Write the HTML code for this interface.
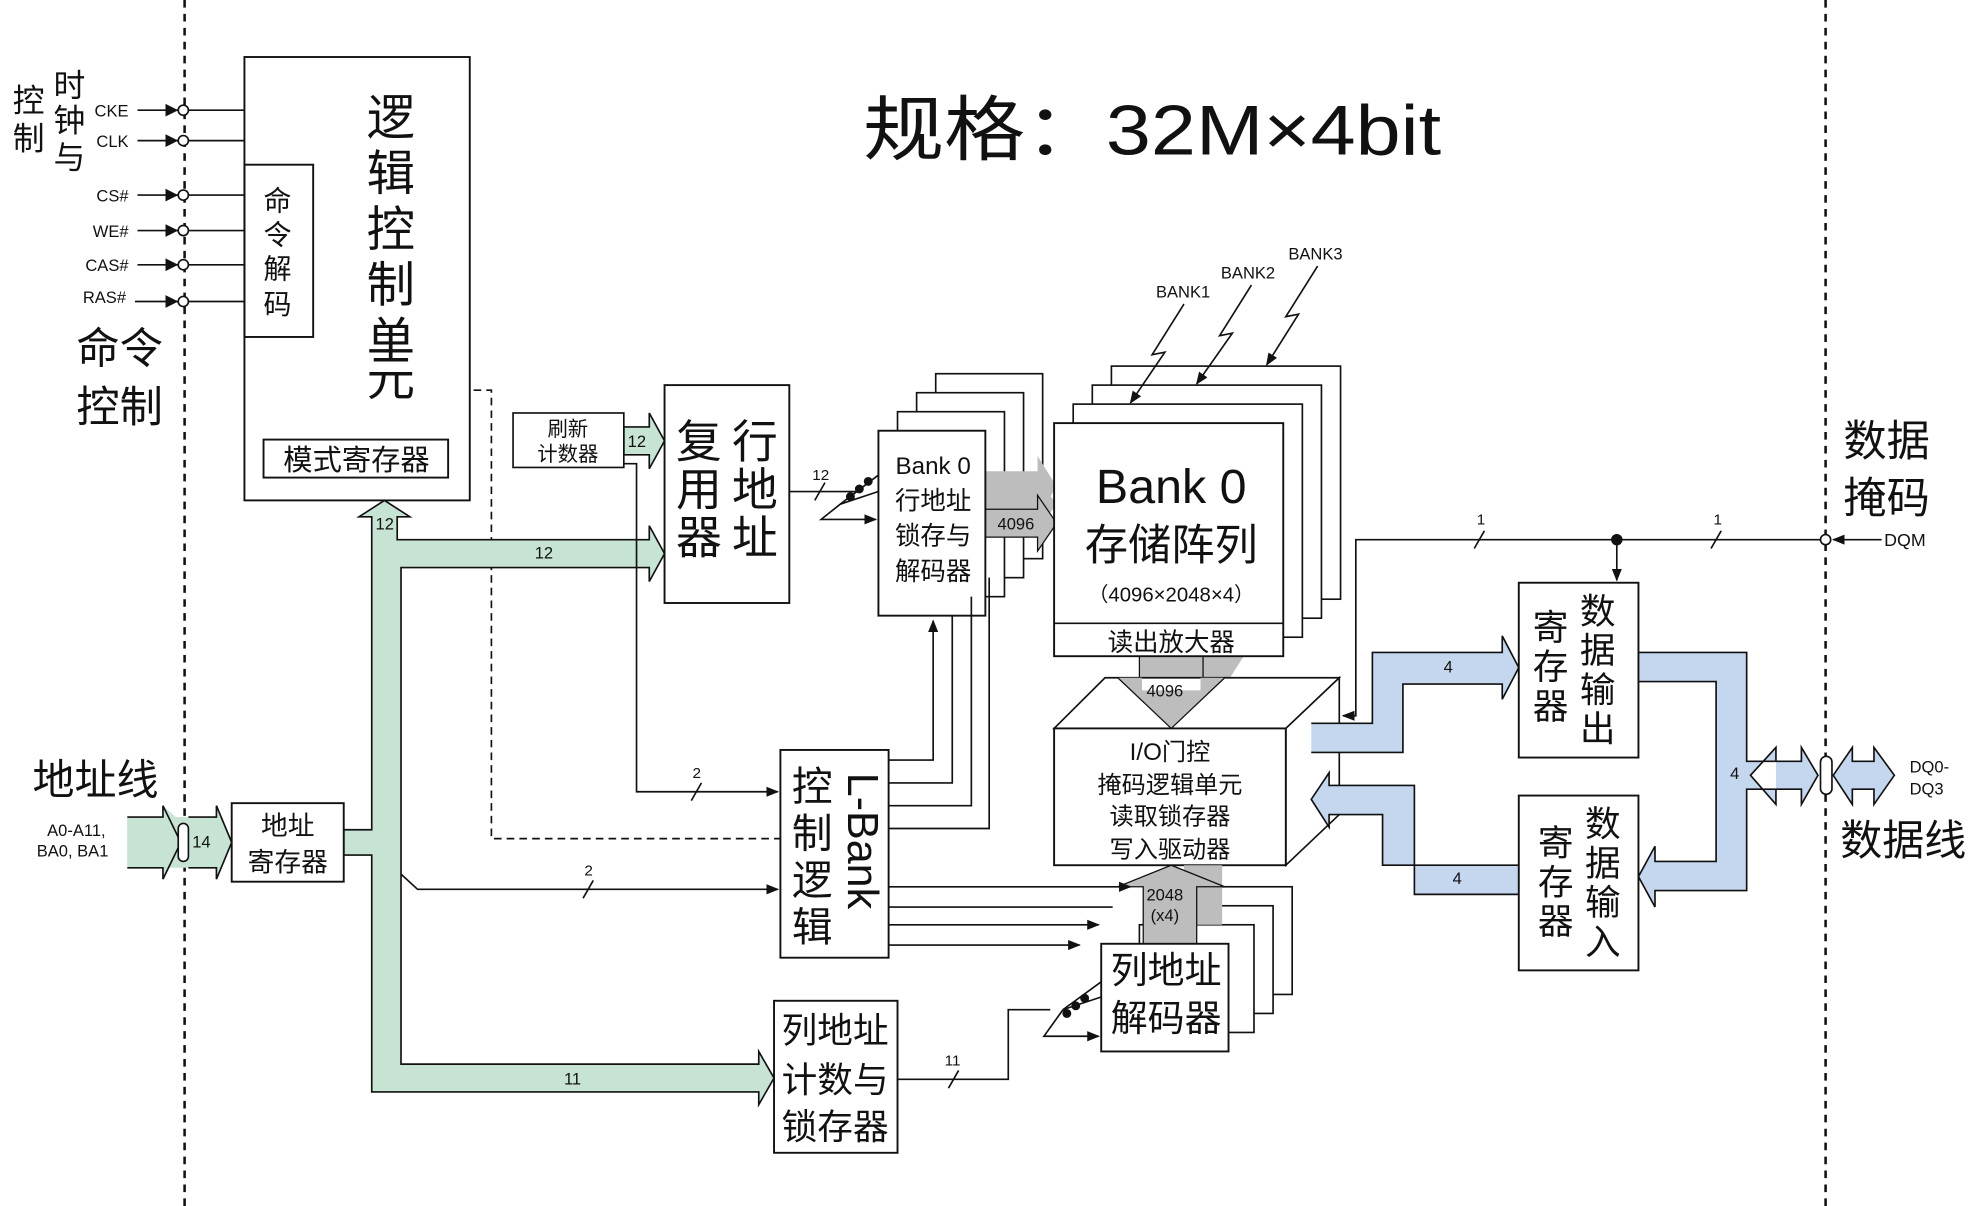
<!DOCTYPE html>
<html><head><meta charset="utf-8"><style>
html,body{margin:0;padding:0;background:#fff;}
svg{display:block;}
text{font-family:"Liberation Sans","Noto Sans CJK SC",sans-serif;fill:#111;}
</style></head><body>
<svg width="1986" height="1206" viewBox="0 0 1560 952" preserveAspectRatio="none" xmlns="http://www.w3.org/2000/svg">
<defs>
<marker id="ah" markerWidth="10" markerHeight="8" refX="9" refY="4" orient="auto" markerUnits="userSpaceOnUse"><path d="M0,0 L10,4 L0,8 z" fill="#111"/></marker>
</defs>
<rect width="1560" height="952" fill="#fff"/>
<g stroke="#111" stroke-width="2" stroke-dasharray="6,5" fill="none">
<line x1="145" y1="0" x2="145" y2="952"/><line x1="1434" y1="0" x2="1434" y2="952"/>
</g>
<!-- title -->
<text x="678" y="122" font-size="56" textLength="454" lengthAdjust="spacingAndGlyphs">规格：32M×4bit</text>
<!-- left labels -->
<g font-size="25">
<text x="10" y="88">控</text><text x="10" y="118">制</text>
<text x="42" y="76">时</text><text x="42" y="104">钟</text><text x="42" y="133">与</text>
</g>
<text x="60" y="287" font-size="34">命令</text><text x="60" y="333" font-size="34">控制</text>
<g font-size="13" text-anchor="end">
<text x="101" y="92">CKE</text><text x="101" y="116">CLK</text><text x="101" y="159">CS#</text>
<text x="101" y="187">WE#</text><text x="101" y="214">CAS#</text><text x="99" y="239">RAS#</text>
</g>
<g stroke="#111" stroke-width="1.3" fill="#fff">
<line x1="108" y1="87" x2="192" y2="87"/><line x1="108" y1="111" x2="192" y2="111"/>
<line x1="108" y1="154" x2="192" y2="154"/><line x1="108" y1="182" x2="192" y2="182"/>
<line x1="108" y1="209" x2="192" y2="209"/><line x1="106" y1="238" x2="192" y2="238"/>
</g>
<g fill="#111"><path d="M130,82 L140,87 L130,92z"/><path d="M130,106 L140,111 L130,116z"/><path d="M130,149 L140,154 L130,159z"/><path d="M130,177 L140,182 L130,187z"/><path d="M130,204 L140,209 L130,214z"/><path d="M130,233 L140,238 L130,243z"/></g>
<g stroke="#111" stroke-width="1.3" fill="#fff"><circle cx="144" cy="87" r="4"/><circle cx="144" cy="111" r="4"/><circle cx="144" cy="154" r="4"/><circle cx="144" cy="182" r="4"/><circle cx="144" cy="209" r="4"/><circle cx="144" cy="238" r="4"/></g>
<!-- logic box -->
<g stroke="#111" stroke-width="1.5" fill="none">
<rect x="192" y="45" width="177" height="350" fill="#fff"/>
<rect x="192" y="130" width="54" height="136"/>
<rect x="207" y="347" width="145" height="30"/>
</g>
<g font-size="22" text-anchor="middle"><text x="218" y="166">命</text><text x="218" y="193">令</text><text x="218" y="220">解</text><text x="218" y="248">码</text></g>
<g font-size="38" text-anchor="middle"><text x="307" y="106">逻</text><text x="307" y="150">辑</text><text x="307" y="194">控</text><text x="307" y="238">制</text><text x="307" y="282">单</text><text x="307" y="312">元</text></g>
<text x="280" y="371" font-size="23" text-anchor="middle">模式寄存器</text>
<!-- dashed control -->
<path d="M372,308 H386 V662 H613" stroke="#111" stroke-width="1.3" stroke-dasharray="6,4" fill="none"/>
<!-- green bus -->
<g fill="#c6e3d3" stroke="#111" stroke-width="1.3">
<path d="M270,655 H292 V448 V408 H282 L302,395 L322,408 H312 V426 H510 V415 L522,437 L510,459 V448 H315 V840 H596 V830 L608,851 L596,872 V862 H292 V675 H270 Z"/>
<path d="M100,645 H128 V636 L138,645 L138,645 H170 V636 L182,665 L170,694 V685 H100 Z" stroke="none"/>
<path d="M100,645 H128 V636 L142,665 L128,694 V685 H100"/>
<path d="M148,645 H170 V636 L182,665 L170,694 V685 H148"/>
<path d="M490,337 H510 V326 L522,348 L510,370 V359 H490 Z"/>
</g>
<rect x="140" y="650" width="8" height="30" rx="4" fill="#fff" stroke="#111" stroke-width="1.3"/>
<g font-size="13"><text x="151" y="669">14</text><text x="295" y="418">12</text><text x="420" y="441">12</text><text x="443" y="856">11</text><text x="493" y="353">12</text></g>
<text x="75" y="627" font-size="33" text-anchor="middle">地址线</text>
<text x="60" y="660" font-size="13" text-anchor="middle">A0-A11,</text><text x="57" y="676" font-size="13" text-anchor="middle">BA0, BA1</text>
<!-- address reg -->
<rect x="182" y="634" width="88" height="62" fill="#fff" stroke="#111" stroke-width="1.5"/>
<text x="226" y="659" font-size="21" text-anchor="middle">地址</text><text x="226" y="688" font-size="21" text-anchor="middle">寄存器</text>
<!-- refresh -->
<rect x="403" y="326" width="87" height="43" fill="#fff" stroke="#111" stroke-width="1.3"/>
<text x="446" y="344" font-size="16" text-anchor="middle">刷新</text><text x="446" y="364" font-size="16" text-anchor="middle">计数器</text>
<!-- mux -->
<rect x="522" y="304" width="98" height="172" fill="#fff" stroke="#111" stroke-width="1.5"/>
<g font-size="36" text-anchor="middle"><text x="549" y="361">复</text><text x="549" y="399">用</text><text x="549" y="437">器</text><text x="593" y="361">行</text><text x="593" y="399">地</text><text x="593" y="437">址</text></g>
<!-- thin lines -->
<g stroke="#111" stroke-width="1.3" fill="none">
<path d="M490,366 H500 V625 H611" marker-end="url(#ah)"/>
<path d="M315,690 L328,702 H611" marker-end="url(#ah)"/>
<path d="M620,388 H672"/>
<line x1="640" y1="395" x2="648" y2="381"/><line x1="543" y1="632" x2="551" y2="618"/><line x1="458" y1="709" x2="466" y2="695"/>
<path d="M690,375 L660,398"/><path d="M690,388 L660,398"/><path d="M660,398 L645,410 H688" marker-end="url(#ah)"/>
<path d="M705,852 H792 V797 H825"/><line x1="745" y1="859" x2="753" y2="845"/>
<path d="M865,775 L835,797"/><path d="M865,787 L835,797"/><path d="M835,797 L820,818 H863" marker-end="url(#ah)"/>
</g>
<g fill="#111"><circle cx="668" cy="392" r="3.5"/><circle cx="675" cy="386" r="3.5"/><circle cx="682" cy="380" r="3.5"/><circle cx="838" cy="800" r="3.5"/><circle cx="845" cy="794" r="3.5"/><circle cx="852" cy="788" r="3.5"/></g>
<g font-size="12"><text x="638" y="379">12</text><text x="544" y="614">2</text><text x="459" y="691">2</text><text x="742" y="841">11</text></g>
<!-- row decoder stacks -->
<g stroke="#111" stroke-width="1.3" fill="#fff">
<rect x="735" y="295" width="84" height="146"/><rect x="720" y="310" width="84" height="146"/><rect x="705" y="325" width="84" height="146"/>
</g>
<g fill="#bdbdbd" stroke="#111" stroke-width="1">
<path d="M774,372 H815 V360 L830,384 L815,408 V396 H774Z" stroke="none"/>
<path d="M774,388 H815 V378 L830,398 L815,418 V408 H774Z" stroke="none"/>
<path d="M774,402 H815 V391 L830,413 L815,435 V424 H774Z"/>
</g>
<rect x="690" y="340" width="84" height="146" fill="#fff" stroke="#111" stroke-width="1.5"/>
<text x="733" y="374" font-size="19" text-anchor="middle">Bank 0</text>
<g font-size="20" text-anchor="middle"><text x="733" y="402">行地址</text><text x="733" y="430">锁存与</text><text x="733" y="458">解码器</text></g>
<text x="798" y="418" font-size="13" text-anchor="middle">4096</text>
<!-- bank arrays -->
<g stroke="#111" stroke-width="1.3" fill="#fff">
<rect x="873" y="289" width="180" height="184"/><rect x="858" y="304" width="180" height="184"/><rect x="843" y="319" width="180" height="184"/>
</g>
<g fill="#bdbdbd" stroke="#111" stroke-width="1">
<path d="M935,500 H985 V505 L960,545 L945,545 Z" stroke="none"/>
<path d="M895,518 H945 V535 H962 L920,575 L878,535 H895 Z"/>
</g>
<rect x="828" y="334" width="180" height="184" fill="#fff" stroke="#111" stroke-width="1.5"/>
<line x1="828" y1="492" x2="1008" y2="492" stroke="#111" stroke-width="1.3"/>
<text x="920" y="397" font-size="38" text-anchor="middle">Bank 0</text>
<text x="920" y="442" font-size="34" text-anchor="middle">存储阵列</text>
<text x="920" y="475" font-size="16" text-anchor="middle">（4096×2048×4）</text>
<text x="920" y="514" font-size="20" text-anchor="middle">读出放大器</text>
<g font-size="13"><text x="908" y="235">BANK1</text><text x="959" y="220">BANK2</text><text x="1012" y="205">BANK3</text></g>
<g stroke="#111" stroke-width="1.3" fill="none">
<path d="M930,240 L905,280 L915,278 L888,318" marker-end="url(#ah)"/>
<path d="M983,225 L958,265 L968,263 L940,303" marker-end="url(#ah)"/>
<path d="M1035,210 L1010,250 L1020,248 L995,288" marker-end="url(#ah)"/>
</g>
<!-- IO box 3D -->
<g stroke="#111" stroke-width="1.3" fill="#fff">
<path d="M828,575 L868,535 H1052 L1010,575 Z"/>
<path d="M1010,575 L1052,535 V643 L1010,683 Z"/>
</g>
<g fill="#bdbdbd" stroke="#111" stroke-width="1"><path d="M897,545 H943 V535 H962 L920,575 L878,535 H897Z" stroke="none"/><path d="M878,535 L920,575 L962,535" fill="none"/></g>
<text x="915" y="550" font-size="13" text-anchor="middle">4096</text>
<rect x="828" y="575" width="182" height="108" fill="#fff" stroke="#111" stroke-width="1.5"/>
<g font-size="19" text-anchor="middle"><text x="919" y="600">I/O门控</text><text x="919" y="626">掩码逻辑单元</text><text x="919" y="651">读取锁存器</text><text x="919" y="677">写入驱动器</text></g>
<!-- L-Bank -->
<rect x="613" y="592" width="85" height="164" fill="#fff" stroke="#111" stroke-width="1.5"/>
<g font-size="32" text-anchor="middle"><text x="638" y="632">控</text><text x="638" y="669">制</text><text x="638" y="706">逻</text><text x="638" y="743">辑</text></g>
<text x="0" y="0" font-size="34" transform="translate(666,610) rotate(90)">L-Bank</text>
<g stroke="#111" stroke-width="1.3" fill="none">
<path d="M698,600 H733 V490" marker-end="url(#ah)"/>
<path d="M698,618 H748 V486"/><path d="M698,636 H763 V471"/><path d="M698,654 H777 V456"/>
</g>
<g stroke="#111" stroke-width="1.3" fill="#fff">
<rect x="925" y="700" width="90" height="85"/><rect x="910" y="715" width="90" height="85"/><rect x="895" y="730" width="90" height="85"/>
</g>
<g fill="#bdbdbd" stroke="#111" stroke-width="1">
<path d="M900,700 H940 V745 H900Z" stroke="none"/><path d="M930,683 H960 V730 H930Z" stroke="none"/>
<path d="M898,745 V700 H878 L920,683 L962,700 H940 V745" />
</g>
<text x="915" y="711" font-size="13" text-anchor="middle">2048</text><text x="915" y="727" font-size="13" text-anchor="middle">(x4)</text>
<g stroke="#111" stroke-width="1.3" fill="none">
<path d="M698,700 H888" marker-end="url(#ah)"/><path d="M698,716 H874" /><path d="M698,730 H863" marker-end="url(#ah)"/><path d="M698,746 H848" marker-end="url(#ah)"/>
</g>
<rect x="865" y="745" width="100" height="85" fill="#fff" stroke="#111" stroke-width="1.5"/>
<text x="916" y="776" font-size="29" text-anchor="middle">列地址</text><text x="916" y="814" font-size="29" text-anchor="middle">解码器</text>
<rect x="608" y="790" width="97" height="120" fill="#fff" stroke="#111" stroke-width="1.5"/>
<g font-size="28" text-anchor="middle"><text x="656" y="823">列地址</text><text x="656" y="862">计数与</text><text x="656" y="899">锁存器</text></g>
<!-- DQM -->
<g stroke="#111" stroke-width="1.3" fill="none">
<path d="M1434,426 H1065 V565 H1055" marker-end="url(#ah)"/>
<path d="M1270,426 V458" marker-end="url(#ah)"/>
<path d="M1478,426 H1440" marker-end="url(#ah)"/>
<line x1="1158" y1="433" x2="1166" y2="419"/><line x1="1344" y1="433" x2="1352" y2="419"/>
</g>
<circle cx="1270" cy="426" r="4.5" fill="#111"/><circle cx="1434" cy="426" r="4" fill="#fff" stroke="#111" stroke-width="1.3"/>
<g font-size="12"><text x="1160" y="414">1</text><text x="1346" y="414">1</text></g>
<text x="1480" y="431" font-size="14">DQM</text>
<text x="1482" y="360" font-size="34" text-anchor="middle">数据</text><text x="1482" y="405" font-size="34" text-anchor="middle">掩码</text>
<!-- blue buses -->
<g fill="#c5d7ee" stroke="#111" stroke-width="1.3">
<path d="M1030,571 H1078 V515 H1180 V502 L1193,527 L1180,552 V540 H1102 V594 H1030"/>
<path d="M1287,515 H1372 V601 H1395 V590 L1375,612 L1395,635 V623 H1372 V703 H1300 V716 L1287,692 L1300,668 V680 H1348 V538 H1287"/>
<path d="M1193,683 H1086 V643 H1044 V653 L1030,631 L1044,610 V620 H1111 V706 H1193"/>
<path d="M1395,601 H1415 V590 L1428,612 L1415,635 V623 H1395"/>
<path d="M1440,612 L1455,590 V601 H1472 V590 L1488,612 L1472,635 V623 H1455 V635 Z"/>
</g>
<rect x="1430" y="597" width="9" height="30" rx="4.5" fill="#fff" stroke="#111" stroke-width="1.3"/>
<g font-size="13"><text x="1134" y="531">4</text><text x="1141" y="698">4</text><text x="1359" y="615">4</text></g>
<text x="1500" y="610" font-size="13">DQ0-</text><text x="1500" y="627" font-size="13">DQ3</text>
<text x="1495" y="675" font-size="33" text-anchor="middle">数据线</text>
<rect x="1193" y="460" width="94" height="138" fill="#fff" stroke="#111" stroke-width="1.5"/>
<rect x="1193" y="628" width="94" height="138" fill="#fff" stroke="#111" stroke-width="1.5"/>
<g font-size="28" text-anchor="middle">
<text x="1255" y="492">数</text><text x="1255" y="523">据</text><text x="1255" y="554">输</text><text x="1255" y="585">出</text>
<text x="1218" y="505">寄</text><text x="1218" y="536">存</text><text x="1218" y="567">器</text>
<text x="1259" y="660">数</text><text x="1259" y="691">据</text><text x="1259" y="722">输</text><text x="1259" y="753">入</text>
<text x="1222" y="675">寄</text><text x="1222" y="706">存</text><text x="1222" y="737">器</text>
</g>
</svg>
</body></html>
